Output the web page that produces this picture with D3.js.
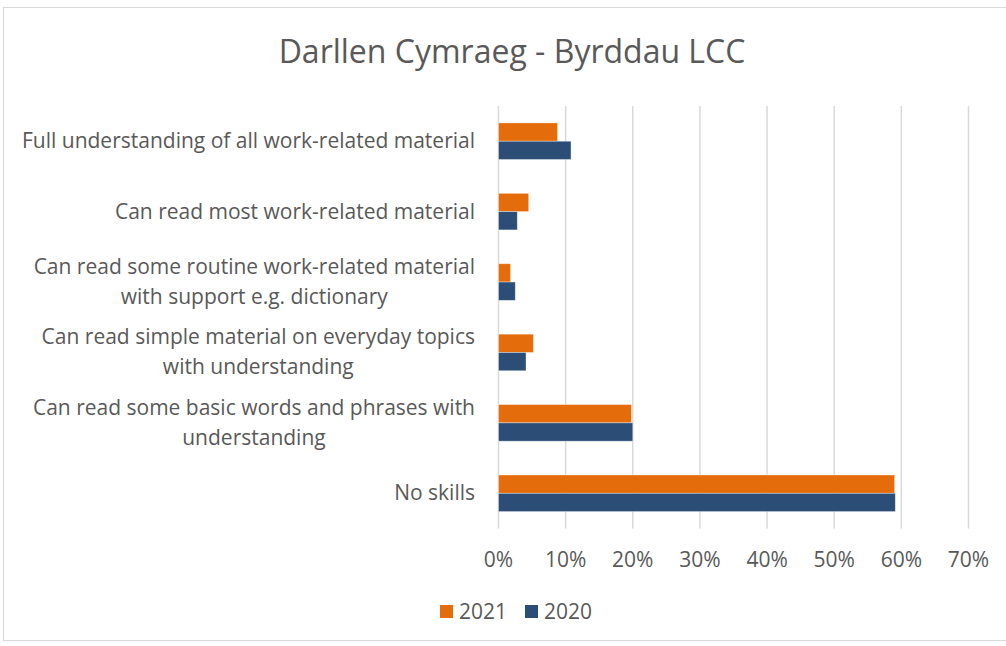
<!DOCTYPE html>
<html>
<head>
<meta charset="utf-8">
<script src="https://cdn.jsdelivr.net/npm/d3@7"></script>
<style>
  body { margin: 0; background: #fff; }
  text { font-family: "Open Sans", Lato, sans-serif; fill: #595959; }
</style>
</head>
<body>
<svg id="svg1" width="1006" height="646"></svg>
<script>
// data
var categories = [
    ['Full understanding of all work-related material'],
    ['Can read most work-related material'],
    ['Can read some routine work-related material', 'with support e.g. dictionary'],
    ['Can read simple material on everyday topics', 'with understanding'],
    ['Can read some basic words and phrases with', 'understanding'],
    ['No skills']
];
var values2021 = [8.8, 4.5, 1.8, 5.2, 19.8, 59.0];
var values2020 = [10.8, 2.8, 2.5, 4.1, 20.0, 59.1];
var seriesNames = ['2021', '2020'];
var seriesColors = ['#E46C0A', '#2C4D75'];
var ticks = [0, 10, 20, 30, 40, 50, 60, 70];

var svg = d3.select('svg');

// chart frame
svg.append('rect')
    .attr('x', 3.5).attr('y', 7.5)
    .attr('width', 1010).attr('height', 633)
    .attr('fill', 'none')
    .attr('stroke', '#D9D9D9')
    .attr('stroke-width', 1);

var plotLeft = 498.5, plotRight = 968.5;
var plotTop = 106, plotBottom = 528.5;

var x = d3.scaleLinear().domain([0, 70]).range([plotLeft, plotRight]);
var y = d3.scaleBand()
    .domain(d3.range(categories.length))
    .range([plotTop, plotBottom])
    .paddingInner(0.48).paddingOuter(0.24);
var ySeries = d3.scaleBand().domain([0, 1]).range([0, y.bandwidth()]);

// title
svg.append('text')
    .attr('x', 512).attr('y', 63)
    .attr('text-anchor', 'middle')
    .style('font-size', '32px')
    .text('Darllen Cymraeg - Byrddau LCC');

// gridlines
svg.append('g').selectAll('line')
    .data(ticks)
    .enter()
    .append('line')
    .attr('x1', function(d){ return x(d); })
    .attr('x2', function(d){ return x(d); })
    .attr('y1', plotTop)
    .attr('y2', plotBottom)
    .attr('stroke', '#D9D9D9')
    .attr('stroke-width', 1.5);

// tick labels
svg.append('g').selectAll('text')
    .data(ticks)
    .enter()
    .append('text')
    .attr('x', function(d){ return x(d); })
    .attr('y', 567)
    .attr('text-anchor', 'middle')
    .style('font-size', '21px')
    .text(function(d){ return d + '%'; });

// bars
var series = [values2021, values2020];
series.forEach(function(vals, s){
    svg.append('g').selectAll('rect')
        .data(vals)
        .enter()
        .append('rect')
        .attr('x', x(0))
        .attr('y', function(d, i){ return y(i) + ySeries(s); })
        .attr('width', function(d){ return x(d) - x(0); })
        .attr('height', ySeries.bandwidth())
        .attr('fill', seriesColors[s])
        .attr('stroke', '#fff')
        .attr('stroke-opacity', 0.5)
        .attr('stroke-width', 0.75);
});

// category labels (wrapped ones are centred on the longest line)
var labelRight = 475;
categories.forEach(function(lines, i){
    var cy = y(i) + y.bandwidth() / 2;
    var g = svg.append('g');
    var texts = g.selectAll('text')
        .data(lines)
        .enter()
        .append('text')
        .style('font-size', '21px')
        .attr('y', function(d, j){ return cy + (j - (lines.length - 1) / 2) * 30 + 7; })
        .text(function(d){ return d; });
    if (lines.length == 1) {
        texts.attr('x', labelRight).attr('text-anchor', 'end');
    } else {
        var maxW = 0;
        texts.each(function(){ maxW = Math.max(maxW, this.getComputedTextLength()); });
        texts.attr('x', labelRight - maxW / 2).attr('text-anchor', 'middle');
    }
});

// legend
var legendX = [440, 525];
seriesNames.forEach(function(name, s){
    svg.append('rect')
        .attr('x', legendX[s]).attr('y', 605)
        .attr('width', 13).attr('height', 13)
        .attr('fill', seriesColors[s]);
    svg.append('text')
        .attr('x', legendX[s] + 19).attr('y', 619)
        .style('font-size', '21px')
        .text(name);
});
</script>
</body>
</html>
